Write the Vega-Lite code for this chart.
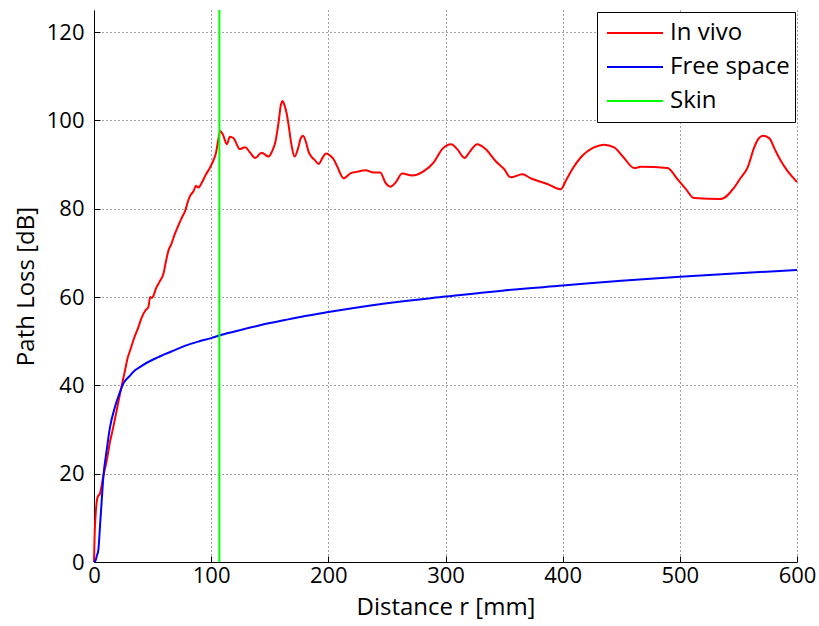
{
  "$schema": "https://vega.github.io/schema/vega-lite/v6.json",
  "width": 703,
  "height": 552,
  "autosize": {"type": "none"},
  "padding": {"left": 94, "top": 10, "right": 22, "bottom": 64},
  "background": "white",
  "config": {
    "view": {"stroke": null},
    "font": "Open Sans",
    "axis": {
      "domainColor": "#000",
      "domainWidth": 1,
      "tickColor": "#000",
      "tickSize": -6,
      "labelFont": "Open Sans",
      "labelFontSize": 22,
      "labelColor": "#000",
      "labelFlush": false,
      "titleFont": "Open Sans",
      "titleFontSize": 24,
      "titleFontWeight": "normal",
      "titleColor": "#000",
      "grid": true,
      "gridColor": "#444",
      "gridDash": [1, 3],
      "gridWidth": 1
    }
  },
  "datasets": {
    "curves": [
      {"series": "In vivo", "r": 0, "pl": 0},
      {"series": "In vivo", "r": 0.8, "pl": 8},
      {"series": "In vivo", "r": 3.2, "pl": 14.8},
      {"series": "In vivo", "r": 5.1, "pl": 15.5},
      {"series": "In vivo", "r": 8, "pl": 19.5},
      {"series": "In vivo", "r": 10.9, "pl": 23},
      {"series": "In vivo", "r": 13.5, "pl": 27},
      {"series": "In vivo", "r": 16.5, "pl": 30.6},
      {"series": "In vivo", "r": 19.5, "pl": 34.5},
      {"series": "In vivo", "r": 22.2, "pl": 38.1},
      {"series": "In vivo", "r": 24.5, "pl": 41},
      {"series": "In vivo", "r": 26.5, "pl": 43.4},
      {"series": "In vivo", "r": 28.5, "pl": 46},
      {"series": "In vivo", "r": 30.8, "pl": 47.9},
      {"series": "In vivo", "r": 34, "pl": 50.5},
      {"series": "In vivo", "r": 37.9, "pl": 53.2},
      {"series": "In vivo", "r": 40.8, "pl": 55.4},
      {"series": "In vivo", "r": 44, "pl": 57},
      {"series": "In vivo", "r": 46.4, "pl": 57.7},
      {"series": "In vivo", "r": 47.9, "pl": 60},
      {"series": "In vivo", "r": 49.5, "pl": 59.8},
      {"series": "In vivo", "r": 50.7, "pl": 60.3},
      {"series": "In vivo", "r": 53, "pl": 62},
      {"series": "In vivo", "r": 56, "pl": 63.5},
      {"series": "In vivo", "r": 59.2, "pl": 65.2},
      {"series": "In vivo", "r": 61.5, "pl": 68.2},
      {"series": "In vivo", "r": 63.5, "pl": 70.5},
      {"series": "In vivo", "r": 66, "pl": 72},
      {"series": "In vivo", "r": 69, "pl": 74.3},
      {"series": "In vivo", "r": 72, "pl": 76.2},
      {"series": "In vivo", "r": 75, "pl": 78},
      {"series": "In vivo", "r": 77.8, "pl": 79.5},
      {"series": "In vivo", "r": 80, "pl": 81.5},
      {"series": "In vivo", "r": 82, "pl": 82.9},
      {"series": "In vivo", "r": 85, "pl": 84},
      {"series": "In vivo", "r": 87, "pl": 85.2},
      {"series": "In vivo", "r": 89, "pl": 84.8},
      {"series": "In vivo", "r": 92, "pl": 85.9},
      {"series": "In vivo", "r": 95, "pl": 87.5},
      {"series": "In vivo", "r": 99, "pl": 89.3},
      {"series": "In vivo", "r": 102, "pl": 91},
      {"series": "In vivo", "r": 104, "pl": 92.5},
      {"series": "In vivo", "r": 106, "pl": 95.5},
      {"series": "In vivo", "r": 107.7, "pl": 97.6},
      {"series": "In vivo", "r": 110, "pl": 96.8},
      {"series": "In vivo", "r": 113.4, "pl": 94.6},
      {"series": "In vivo", "r": 116, "pl": 96.3},
      {"series": "In vivo", "r": 119, "pl": 96},
      {"series": "In vivo", "r": 122, "pl": 94.5},
      {"series": "In vivo", "r": 124, "pl": 93.5},
      {"series": "In vivo", "r": 129, "pl": 93.9},
      {"series": "In vivo", "r": 133, "pl": 92.8},
      {"series": "In vivo", "r": 137.6, "pl": 91.5},
      {"series": "In vivo", "r": 143, "pl": 92.7},
      {"series": "In vivo", "r": 149, "pl": 91.8},
      {"series": "In vivo", "r": 152, "pl": 93},
      {"series": "In vivo", "r": 154.7, "pl": 95},
      {"series": "In vivo", "r": 157.5, "pl": 99.5},
      {"series": "In vivo", "r": 159.5, "pl": 103.5},
      {"series": "In vivo", "r": 161, "pl": 104.4},
      {"series": "In vivo", "r": 162.5, "pl": 103.5},
      {"series": "In vivo", "r": 164.5, "pl": 101.5},
      {"series": "In vivo", "r": 166, "pl": 99.1},
      {"series": "In vivo", "r": 168.5, "pl": 94.5},
      {"series": "In vivo", "r": 171.2, "pl": 91.8},
      {"series": "In vivo", "r": 174, "pl": 93.5},
      {"series": "In vivo", "r": 176.5, "pl": 96},
      {"series": "In vivo", "r": 178.4, "pl": 96.5},
      {"series": "In vivo", "r": 181, "pl": 95},
      {"series": "In vivo", "r": 183, "pl": 93},
      {"series": "In vivo", "r": 185.5, "pl": 91.8},
      {"series": "In vivo", "r": 188.5, "pl": 91},
      {"series": "In vivo", "r": 191.7, "pl": 90.1},
      {"series": "In vivo", "r": 195, "pl": 91.5},
      {"series": "In vivo", "r": 198, "pl": 92.5},
      {"series": "In vivo", "r": 201.7, "pl": 92},
      {"series": "In vivo", "r": 204.5, "pl": 91.2},
      {"series": "In vivo", "r": 207.4, "pl": 89.7},
      {"series": "In vivo", "r": 213, "pl": 86.9},
      {"series": "In vivo", "r": 218.8, "pl": 88},
      {"series": "In vivo", "r": 225, "pl": 88.4},
      {"series": "In vivo", "r": 231.6, "pl": 88.7},
      {"series": "In vivo", "r": 238.7, "pl": 88.2},
      {"series": "In vivo", "r": 244.4, "pl": 88.2},
      {"series": "In vivo", "r": 248.7, "pl": 85.9},
      {"series": "In vivo", "r": 253, "pl": 85},
      {"series": "In vivo", "r": 257.3, "pl": 85.9},
      {"series": "In vivo", "r": 263, "pl": 88},
      {"series": "In vivo", "r": 271.5, "pl": 87.5},
      {"series": "In vivo", "r": 281.5, "pl": 88.5},
      {"series": "In vivo", "r": 290, "pl": 90.5},
      {"series": "In vivo", "r": 297.2, "pl": 93.5},
      {"series": "In vivo", "r": 304.9, "pl": 94.6},
      {"series": "In vivo", "r": 310, "pl": 93.5},
      {"series": "In vivo", "r": 316.2, "pl": 91.5},
      {"series": "In vivo", "r": 321, "pl": 93},
      {"series": "In vivo", "r": 327, "pl": 94.6},
      {"series": "In vivo", "r": 334.2, "pl": 93.5},
      {"series": "In vivo", "r": 342.7, "pl": 90.8},
      {"series": "In vivo", "r": 350, "pl": 89},
      {"series": "In vivo", "r": 355.6, "pl": 87.1},
      {"series": "In vivo", "r": 365.6, "pl": 87.8},
      {"series": "In vivo", "r": 372.6, "pl": 86.9},
      {"series": "In vivo", "r": 386.9, "pl": 85.6},
      {"series": "In vivo", "r": 398.3, "pl": 84.4},
      {"series": "In vivo", "r": 403, "pl": 86.5},
      {"series": "In vivo", "r": 408.3, "pl": 89},
      {"series": "In vivo", "r": 415.4, "pl": 91.6},
      {"series": "In vivo", "r": 426.8, "pl": 93.9},
      {"series": "In vivo", "r": 435.3, "pl": 94.5},
      {"series": "In vivo", "r": 443.9, "pl": 93.9},
      {"series": "In vivo", "r": 452.4, "pl": 91.5},
      {"series": "In vivo", "r": 461, "pl": 89.2},
      {"series": "In vivo", "r": 466.7, "pl": 89.5},
      {"series": "In vivo", "r": 489.5, "pl": 89.2},
      {"series": "In vivo", "r": 498, "pl": 86.7},
      {"series": "In vivo", "r": 505, "pl": 84.5},
      {"series": "In vivo", "r": 512.2, "pl": 82.4},
      {"series": "In vivo", "r": 535, "pl": 82.2},
      {"series": "In vivo", "r": 546.4, "pl": 84.8},
      {"series": "In vivo", "r": 552, "pl": 87},
      {"series": "In vivo", "r": 557.8, "pl": 89.3},
      {"series": "In vivo", "r": 563.5, "pl": 93.9},
      {"series": "In vivo", "r": 567, "pl": 95.8},
      {"series": "In vivo", "r": 570.7, "pl": 96.5},
      {"series": "In vivo", "r": 576.3, "pl": 96},
      {"series": "In vivo", "r": 581, "pl": 93.5},
      {"series": "In vivo", "r": 586.3, "pl": 90.8},
      {"series": "In vivo", "r": 592, "pl": 88.5},
      {"series": "In vivo", "r": 599.1, "pl": 86.3},
      {"series": "In vivo", "r": 600, "pl": 86},
      {"series": "Free space", "r": 0.5, "pl": 0},
      {"series": "Free space", "r": 1.5, "pl": 0.5},
      {"series": "Free space", "r": 2.5, "pl": 1.5},
      {"series": "Free space", "r": 3.7, "pl": 2.7},
      {"series": "Free space", "r": 5.1, "pl": 8},
      {"series": "Free space", "r": 6.6, "pl": 14},
      {"series": "Free space", "r": 8, "pl": 19.3},
      {"series": "Free space", "r": 10.8, "pl": 25.3},
      {"series": "Free space", "r": 13.7, "pl": 30.6},
      {"series": "Free space", "r": 17.9, "pl": 35.1},
      {"series": "Free space", "r": 22.2, "pl": 38.5},
      {"series": "Free space", "r": 25, "pl": 40.4},
      {"series": "Free space", "r": 30, "pl": 42},
      {"series": "Free space", "r": 35, "pl": 43.4},
      {"series": "Free space", "r": 40, "pl": 44.3},
      {"series": "Free space", "r": 50, "pl": 45.8},
      {"series": "Free space", "r": 55, "pl": 46.4},
      {"series": "Free space", "r": 60, "pl": 47},
      {"series": "Free space", "r": 70, "pl": 48.1},
      {"series": "Free space", "r": 78, "pl": 49},
      {"series": "Free space", "r": 90, "pl": 50},
      {"series": "Free space", "r": 100, "pl": 50.7},
      {"series": "Free space", "r": 107, "pl": 51.3},
      {"series": "Free space", "r": 120, "pl": 52.2},
      {"series": "Free space", "r": 140, "pl": 53.5},
      {"series": "Free space", "r": 163, "pl": 54.8},
      {"series": "Free space", "r": 180, "pl": 55.7},
      {"series": "Free space", "r": 200, "pl": 56.6},
      {"series": "Free space", "r": 250, "pl": 58.6},
      {"series": "Free space", "r": 300, "pl": 60.1},
      {"series": "Free space", "r": 350, "pl": 61.5},
      {"series": "Free space", "r": 400, "pl": 62.6},
      {"series": "Free space", "r": 450, "pl": 63.7},
      {"series": "Free space", "r": 500, "pl": 64.6},
      {"series": "Free space", "r": 550, "pl": 65.4},
      {"series": "Free space", "r": 600, "pl": 66.1}
    ],
    "skin": [{"series": "Skin", "r": 107}]
  },
  "encoding": {
    "color": {
      "field": "series",
      "type": "nominal",
      "scale": {"domain": ["In vivo", "Free space", "Skin"], "range": ["#ff0000", "#0000ff", "#00ff00"]},
      "legend": {
        "title": null,
        "orient": "top-right",
        "offset": 2,
        "strokeColor": "#000",
        "fillColor": "#fff",
        "padding": 5,
        "symbolOffset": 4,
        "symbolType": "stroke",
        "symbolSize": 3136,
        "symbolStrokeWidth": 2,
        "labelFont": "Open Sans",
        "labelFontSize": 24,
        "labelColor": "#000",
        "labelOffset": 6,
        "clipHeight": 32,
        "rowPadding": 2
      }
    }
  },
  "layer": [
    {
      "data": {"name": "curves"},
      "transform": [{"filter": "datum.series === 'In vivo'"}],
      "mark": {"type": "line", "strokeWidth": 2, "interpolate": "monotone"},
      "encoding": {
        "x": {"field": "r", "type": "quantitative", "scale": {"domain": [0, 600], "nice": false}, "axis": {"title": "Distance r [mm]", "values": [0, 100, 200, 300, 400, 500, 600], "labelPadding": 9, "titlePadding": 9}},
        "y": {"field": "pl", "type": "quantitative", "scale": {"domain": [0, 125], "nice": false}, "axis": {"title": "Path Loss [dB]", "values": [0, 20, 40, 60, 80, 100, 120], "labelPadding": 16, "titlePadding": 8}}
      }
    },
    {
      "data": {"name": "curves"},
      "transform": [{"filter": "datum.series === 'Free space'"}],
      "mark": {"type": "line", "strokeWidth": 2, "interpolate": "monotone"},
      "encoding": {
        "x": {"field": "r", "type": "quantitative"},
        "y": {"field": "pl", "type": "quantitative"}
      }
    },
    {
      "data": {"name": "skin"},
      "mark": {"type": "rule", "strokeWidth": 2},
      "encoding": {
        "x": {"field": "r", "type": "quantitative"}
      }
    }
  ]
}
